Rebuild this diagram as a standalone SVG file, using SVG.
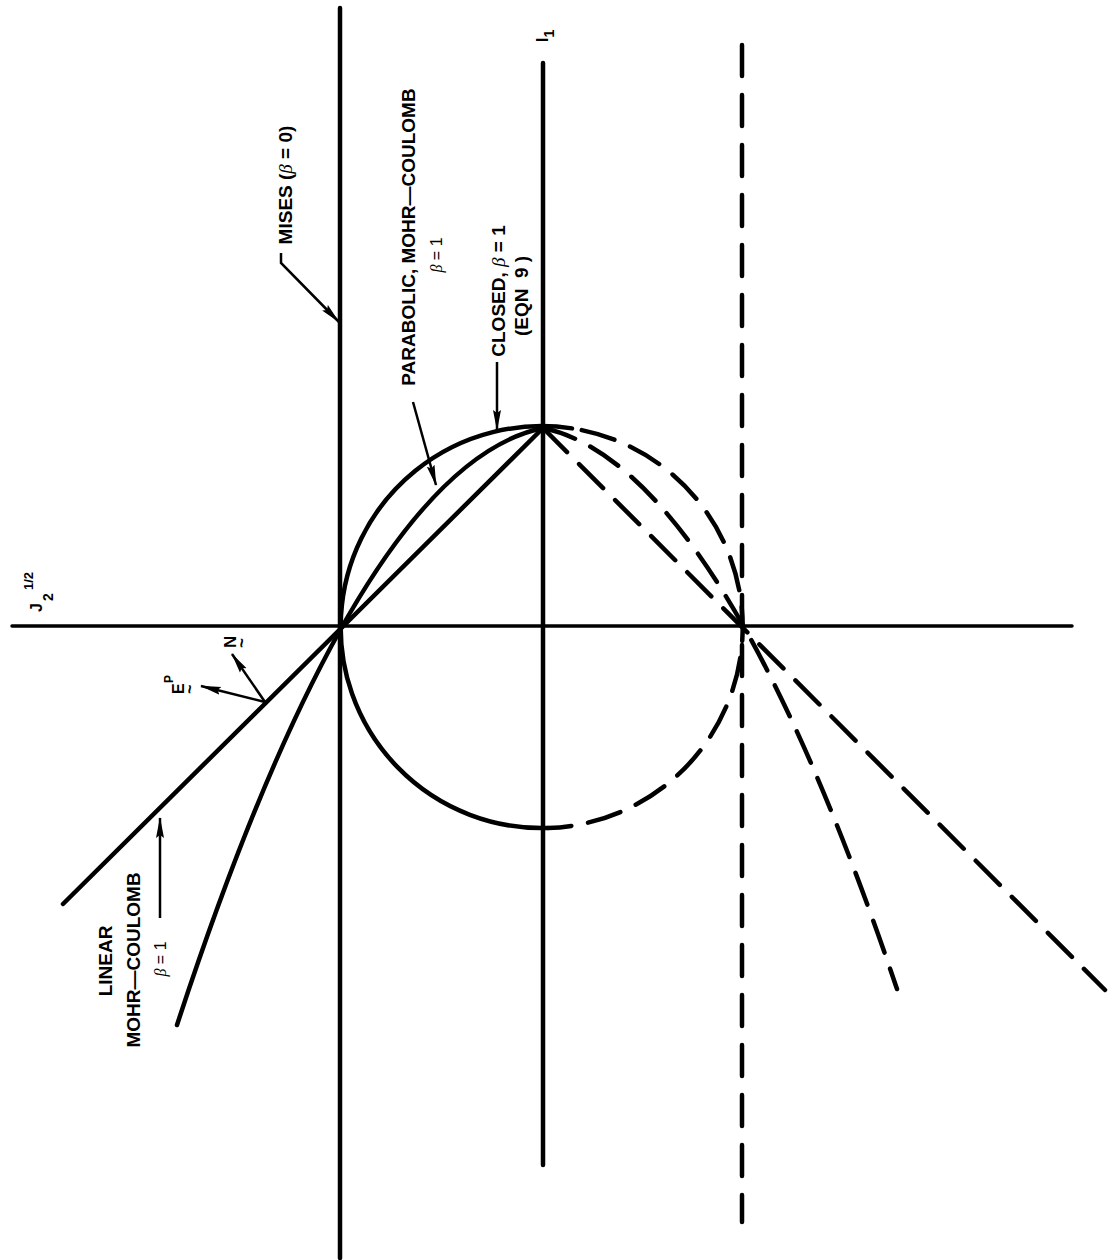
<svg xmlns="http://www.w3.org/2000/svg" width="1113" height="1260" viewBox="0 0 1113 1260">
<defs>
<marker id="ah" markerUnits="userSpaceOnUse" markerWidth="22" markerHeight="10" refX="20" refY="4.5" orient="auto">
<path d="M0,0.5 L21,4.5 L0,8.5 L3,4.5 z" fill="#000"/>
</marker>
<style>
.ln{fill:none;stroke:#000;stroke-linecap:round}
.ax{stroke-width:3.5}
.th{stroke-width:4.5}
.da{stroke-dasharray:34 17}
.dv{stroke-dasharray:31 19}
.ld{fill:none;stroke:#000;stroke-width:2.5}
text{font-family:"Liberation Sans",Arial,sans-serif;fill:#000}
.b{font-weight:bold;font-size:19px}
.s{font-size:16px}
.g{font-style:italic;font-family:"Liberation Serif",serif}
</style>
</defs>
<rect width="1113" height="1260" fill="#fff"/>
<g id="axes">
<line class="ln ax" x1="12" y1="626" x2="1072" y2="626"/>
<line class="ln th" x1="340" y1="8" x2="340" y2="1258"/>
<line class="ln th" x1="543" y1="63" x2="543" y2="1165"/>
<line class="ln th dv" x1="742" y1="45" x2="742" y2="1222"/>
</g>
<g id="curves">
<path class="ln th" d="M572,428.4 A201,201 0 1 0 548,828"/>
<path class="ln th da" stroke-dashoffset="-10" d="M572,428.4 A201,201 0 0 1 548,828"/>
<path class="ln th" d="M543,428 L63,904"/>
<path class="ln th da" d="M543,428 L1105,990"/>
<path class="ln th" d="M543,428 Q360,466 177,1025"/>
<path class="ln th da" d="M543,428 Q720,465 897,989"/>
</g>
<g id="connectors">
<polyline class="ld" points="281,253 281,263 339,322" marker-end="url(#ah)"/>
<line class="ld" x1="413" y1="402" x2="436" y2="485" marker-end="url(#ah)"/>
<line class="ld" x1="497" y1="362" x2="497" y2="430" marker-end="url(#ah)"/>
<line class="ld" x1="160" y1="918" x2="160" y2="818" marker-end="url(#ah)"/>
<line class="ld" x1="265" y1="702" x2="232" y2="654" marker-end="url(#ah)"/>
<line class="ld" x1="265" y1="702" x2="201" y2="686" marker-end="url(#ah)"/>
</g>
<g id="label-mises">
<text class="b" transform="translate(292,185) rotate(-90)" text-anchor="middle">MISES (<tspan class="g" font-weight="normal">β</tspan> = 0)</text>
</g>
<g id="label-parabolic">
<text class="b" transform="translate(415,237) rotate(-90)" text-anchor="middle">PARABOLIC, MOHR—COULOMB</text>
<text class="s" transform="translate(442,255) rotate(-90)" text-anchor="middle"><tspan class="g">β</tspan> = 1</text>
</g>
<g id="label-closed">
<text class="b" transform="translate(505,291) rotate(-90)" text-anchor="middle">CLOSED, <tspan class="g" font-weight="normal">β</tspan> = 1</text>
<text class="b" transform="translate(528,296) rotate(-90)" text-anchor="middle" xml:space="preserve">(EQN  9 )</text>
</g>
<g id="label-linear">
<text class="b" transform="translate(112,961) rotate(-90)" text-anchor="middle">LINEAR</text>
<text class="b" transform="translate(140,960) rotate(-90)" text-anchor="middle">MOHR—COULOMB</text>
<text class="s" transform="translate(166,959) rotate(-90)" text-anchor="middle"><tspan class="g">β</tspan> = 1</text>
</g>
<g id="label-i1">
<text font-weight="bold" font-size="16" transform="translate(548,42) rotate(-90)">I<tspan dy="6" font-size="14">1</tspan></text>
</g>
<g id="label-j2">
<text font-weight="bold" font-size="16" transform="translate(42,612) rotate(-90)">J</text>
<text font-weight="bold" font-size="14" transform="translate(53,601) rotate(-90)">2</text>
<text font-weight="bold" font-size="13" transform="translate(33,590) rotate(-90)">1/2</text>
</g>
<g id="label-n">
<text font-weight="bold" font-size="17" transform="translate(236,648) rotate(-90)">N</text>
<text font-weight="bold" font-size="17" transform="translate(247,648) rotate(-90)">~</text>
</g>
<g id="label-ep">
<text font-weight="bold" font-size="16" transform="translate(184,694) rotate(-90)">E</text>
<text font-weight="bold" font-size="12" transform="translate(173,683) rotate(-90)">P</text>
<text font-weight="bold" font-size="16" transform="translate(195,694) rotate(-90)">~</text>
</g>
</svg>
